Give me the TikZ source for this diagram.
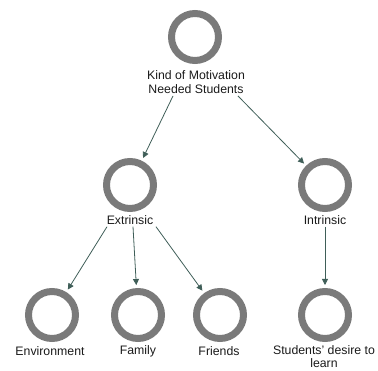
\documentclass[tikz,border=0pt]{standalone}
\usepackage{fontspec}
\setmainfont{Liberation Sans}
\usetikzlibrary{arrows.meta,calc}
\definecolor{ringgray}{HTML}{7A7A7A}
\definecolor{arrowcol}{HTML}{3F5E58}
\definecolor{txtcol}{HTML}{1A1A1A}
\begin{document}
\begin{tikzpicture}[x=1pt,y=-1pt,
  ring/.style={circle,draw=ringgray,line width=7pt,minimum size=47pt,inner sep=0pt},
  lbl/.style={font=\fontsize{12.3}{14.5}\selectfont,text=txtcol,align=center,inner sep=1pt},
  arr/.style={draw=arrowcol,line width=0.8pt,-{Triangle[length=6pt,width=6pt]},shorten >=3pt}]
\useasboundingbox (0,0) rectangle (378,371);
\node[ring] (c0) at (195,37) {};
\node[ring] (c1) at (130,185) {};
\node[ring] (c2) at (325,185) {};
\node[ring] (c3) at (52,315) {};
\node[ring] (c4) at (138,315) {};
\node[ring] (c5) at (220,315) {};
\node[ring] (c6) at (325,315) {};
\node[lbl] (l0) at (196,82) {Kind of Motivation\\Needed Students};
\node[lbl] (l1) at (130,220) {Extrinsic};
\node[lbl] (l2) at (325,220) {Intrinsic};
\node[lbl] (l3) at (50,351) {Environment};
\node[lbl] (l4) at (138,351) {Family};
\node[lbl] (l5) at (219,351) {Friends};
\node[lbl,font=\fontsize{12.3}{13.5}\selectfont] (l6) at (324,356.5) {Students' desire to\\learn};
\draw[arr] ($(l0.south)+(-23,1)$) -- (c1);
\draw[arr] ($(l0.south)+(42,1)$) -- (c2);
\draw[arr] ($(l1.south)+(-23,1)$) -- (c3);
\draw[arr] ($(l1.south)+(3,1)$) -- (c4);
\draw[arr] ($(l1.south)+(26,1)$) -- (c5);
\draw[arr] ($(l2.south)+(0,1)$) -- (c6);
\end{tikzpicture}
\end{document}
